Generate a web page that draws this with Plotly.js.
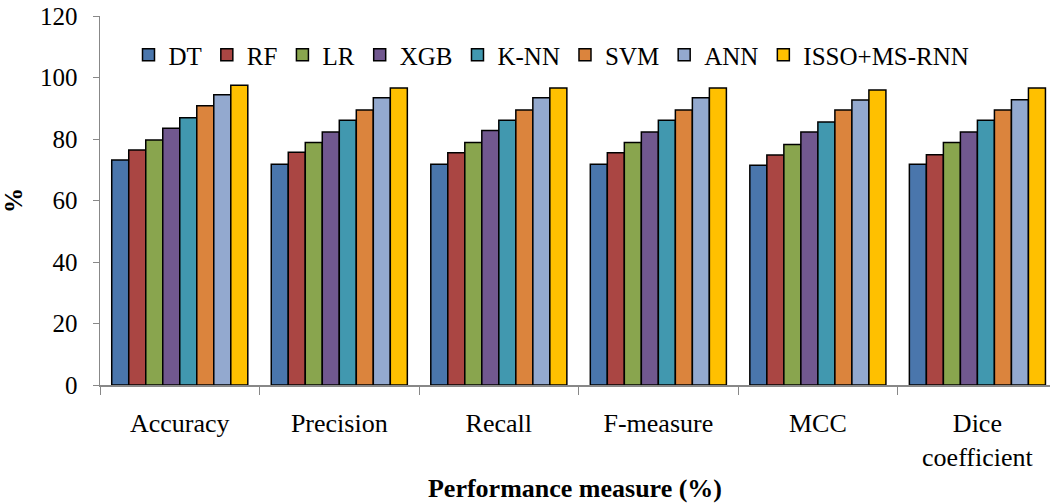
<!DOCTYPE html>
<html>
<head>
<meta charset="utf-8">
<script src="https://cdn.plot.ly/plotly-3.0.1.min.js"></script>
<style>html,body{margin:0;padding:0;background:#fff;}#chart{width:1050px;height:503px;}</style>
</head>
<body>
<div id="chart"></div>
<script>
var categories = ["Accuracy", "Precision", "Recall", "F-measure", "MCC", "Dice<br>coefficient"];
var seriesNames = ["DT", "RF", "LR", "XGB", "K-NN", "SVM", "ANN", "ISSO+MS-RNN"];
var DT   = [73.2, 71.8, 71.8, 71.8, 71.5, 71.8];
var RF   = [76.4, 75.7, 75.5, 75.5, 74.8, 74.9];
var LR   = [79.7, 78.9, 78.9, 78.9, 78.2, 78.9];
var XGB  = [83.5, 82.3, 82.8, 82.3, 82.3, 82.3];
var KNN  = [86.9, 86.1, 86.1, 86.1, 85.5, 86.1];
var SVM  = [90.8, 89.4, 89.4, 89.4, 89.4, 89.4];
var ANN  = [94.4, 93.4, 93.4, 93.4, 92.7, 92.8];
var ISSO = [97.5, 96.6, 96.6, 96.6, 95.9, 96.6];
var seriesValues = [DT, RF, LR, XGB, KNN, SVM, ANN, ISSO];
var colors = ["#4A76AC", "#AA4643", "#89A54E", "#71588F", "#4198AF", "#DB843D", "#93A9CF", "#FFC000"];

var font = "Liberation Serif";
var traces = seriesNames.map(function(name, i) {
  return {
    type: "bar",
    name: name,
    x: categories,
    y: seriesValues[i],
    marker: {color: colors[i], line: {color: "#000", width: 1.5}},
    hoverinfo: "y+name"
  };
});

var layout = {
  width: 1050,
  height: 503,
  margin: {l: 100, r: 0, t: 16, b: 118},
  paper_bgcolor: "#fff",
  plot_bgcolor: "#fff",
  barmode: "group",
  bargap: 0.147,
  bargroupgap: 0,
  font: {family: font, size: 25, color: "#000"},
  showlegend: true,
  legend: {
    orientation: "h",
    x: 0.03, xanchor: "left",
    y: 0.894, yanchor: "middle",
    font: {family: font, size: 25, color: "#000"},
    bgcolor: "rgba(0,0,0,0)",
    traceorder: "normal"
  },
  xaxis: {
    type: "category",
    range: [-0.5, 5.455],
    showline: true,
    linecolor: "#888",
    linewidth: 1.5,
    ticks: "outside",
    ticklen: 8,
    tickcolor: "#888",
    tickson: "boundaries",
    showgrid: false,
    zeroline: false,
    ticklabelstandoff: 14,
    tickfont: {family: font, size: 26, color: "#000"},
    title: {text: "<b>Performance measure (%)</b>", font: {family: font, size: 26, color: "#000"}, standoff: 14}
  },
  yaxis: {
    range: [0, 120],
    dtick: 20,
    showline: true,
    linecolor: "#888",
    linewidth: 1.5,
    ticks: "outside",
    ticklen: 6,
    tickcolor: "#888",
    showgrid: false,
    zeroline: false,
    ticklabelstandoff: 10,
    tickfont: {family: font, size: 25, color: "#000"},
    title: {text: "<b>%</b>", font: {family: font, size: 25, color: "#000"}, standoff: 20}
  }
};

Plotly.newPlot("chart", traces, layout, {displayModeBar: false, staticPlot: true});
</script>
</body>
</html>
